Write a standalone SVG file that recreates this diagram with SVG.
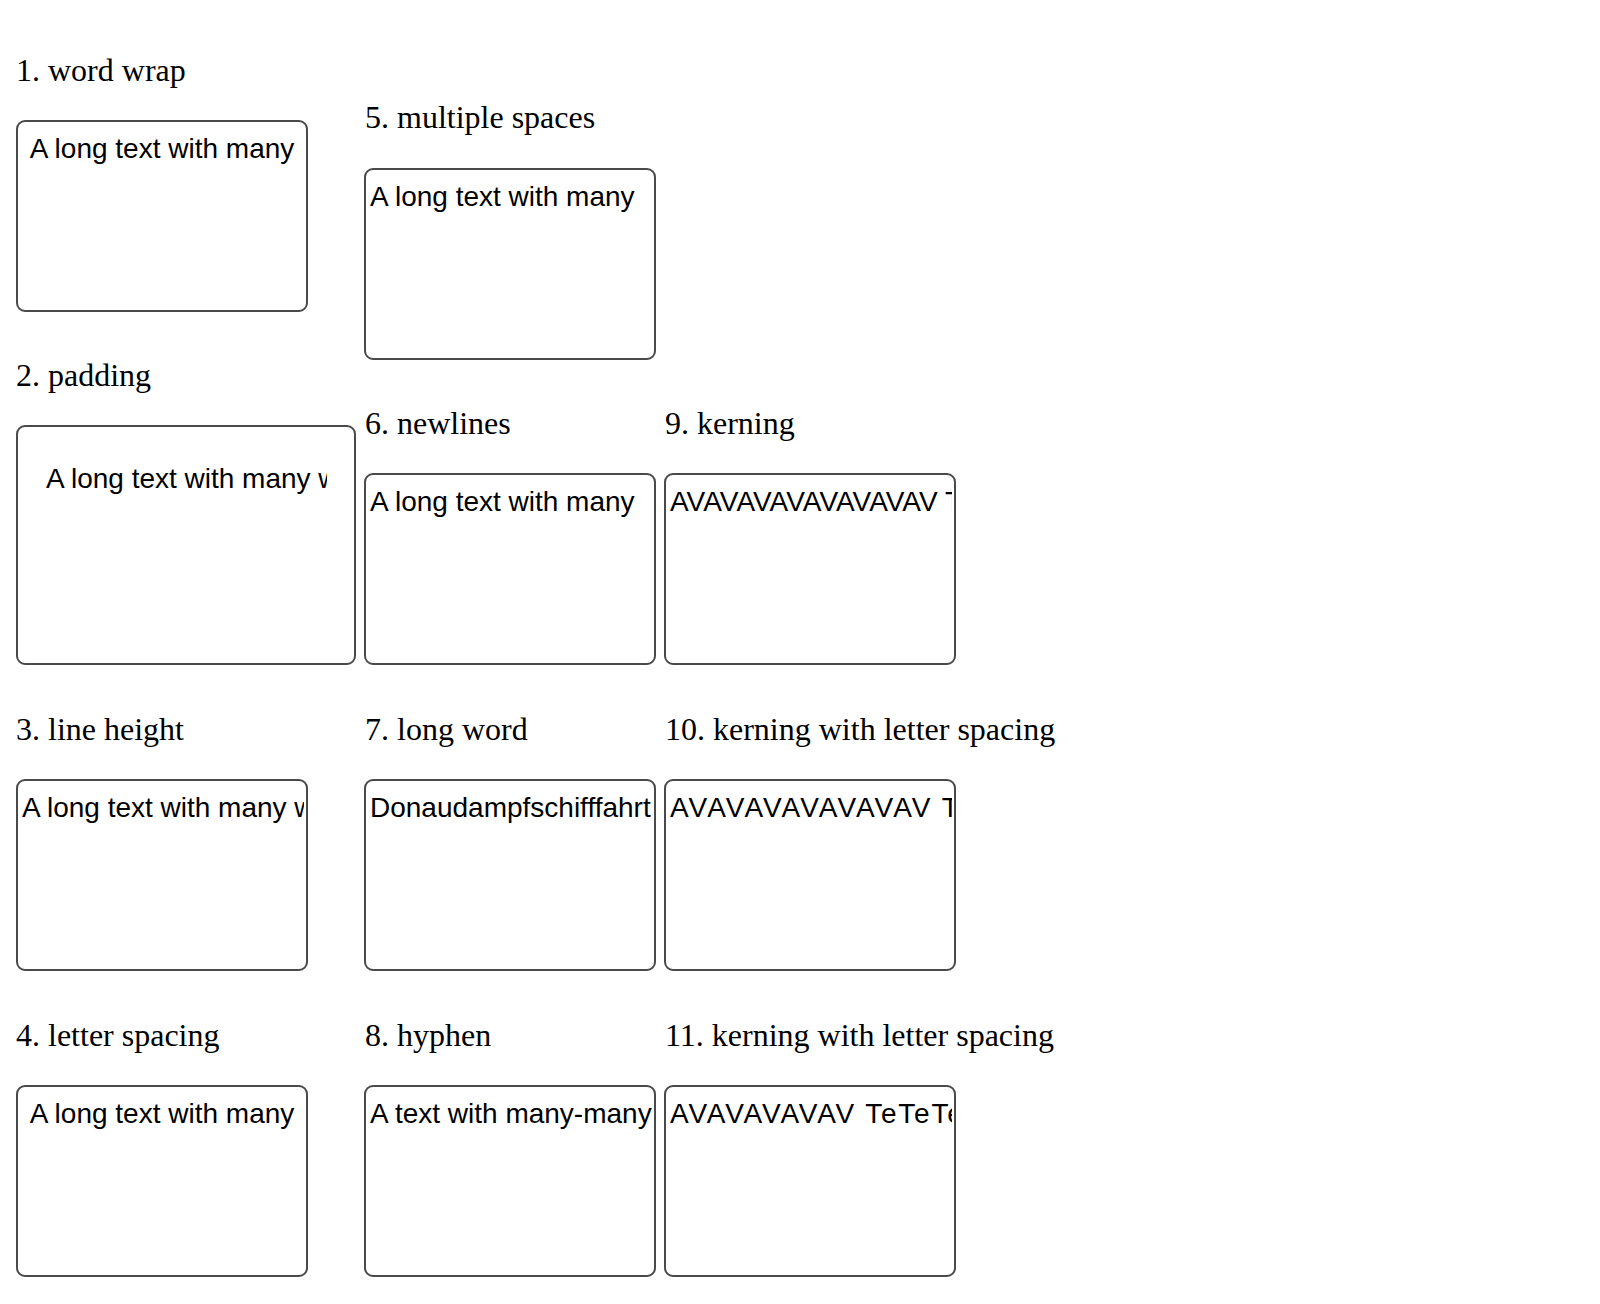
<svg xmlns="http://www.w3.org/2000/svg" width="1600" height="1304" viewBox="0 0 1600 1304">
<style>
.title{font-family:"Liberation Serif","Times New Roman",serif;font-size:32px;fill:#000}
.box{fill:#fff;stroke:#4a4a4a;stroke-width:2}
.t{font-family:"Liberation Sans",Arial,sans-serif;font-size:28px;fill:#000}
.mid{text-anchor:middle}
.ls{letter-spacing:2px}
</style>
<defs>
<clipPath id="c1"><rect x="18" y="122" width="288" height="188"/></clipPath>
<clipPath id="c2"><rect x="46" y="450" width="281" height="190"/></clipPath>
<clipPath id="c3"><rect x="18" y="781" width="286" height="188"/></clipPath>
<clipPath id="c4"><rect x="18" y="1087" width="288" height="188"/></clipPath>
<clipPath id="c5"><rect x="366" y="169" width="287" height="188"/></clipPath>
<clipPath id="c6"><rect x="366" y="475" width="287" height="188"/></clipPath>
<clipPath id="c7"><rect x="366" y="781" width="287" height="188"/></clipPath>
<clipPath id="c8"><rect x="366" y="1087" width="287" height="188"/></clipPath>
<clipPath id="c9"><rect x="666" y="475" width="286" height="188"/></clipPath>
<clipPath id="c10"><rect x="666" y="781" width="286" height="188"/></clipPath>
<clipPath id="c11"><rect x="666" y="1087" width="286" height="188"/></clipPath>
</defs>
<g id="connectors"/>
<g id="node1">
<text class="title" x="16" y="81">1. word wrap</text>
<rect class="box" x="17" y="121" width="290" height="190" rx="8"/>
<text class="t mid" x="162" y="158" clip-path="url(#c1)">A long text with many</text>
</g>
<g id="node2">
<text class="title" x="16" y="386">2. padding</text>
<rect class="box" x="17" y="426" width="338" height="238" rx="8"/>
<text class="t" x="46" y="488" clip-path="url(#c2)">A long text with many w</text>
</g>
<g id="node3">
<text class="title" x="16" y="740">3. line height</text>
<rect class="box" x="17" y="780" width="290" height="190" rx="8"/>
<text class="t" x="22" y="817" clip-path="url(#c3)">A long text with many w</text>
</g>
<g id="node4">
<text class="title" x="16" y="1046">4. letter spacing</text>
<rect class="box" x="17" y="1086" width="290" height="190" rx="8"/>
<text class="t mid" x="162" y="1123" clip-path="url(#c4)">A long text with many</text>
</g>
<g id="node5">
<text class="title" x="365" y="128">5. multiple spaces</text>
<rect class="box" x="365" y="169" width="290" height="190" rx="8"/>
<text class="t" x="370" y="206" clip-path="url(#c5)">A long text with many</text>
</g>
<g id="node6">
<text class="title" x="365" y="434">6. newlines</text>
<rect class="box" x="365" y="474" width="290" height="190" rx="8"/>
<text class="t" x="370" y="511" clip-path="url(#c6)">A long text with many</text>
</g>
<g id="node7">
<text class="title" x="365" y="740">7. long word</text>
<rect class="box" x="365" y="780" width="290" height="190" rx="8"/>
<text class="t" x="370" y="817" clip-path="url(#c7)">Donaudampfschifffahrt</text>
</g>
<g id="node8">
<text class="title" x="365" y="1046">8. hyphen</text>
<rect class="box" x="365" y="1086" width="290" height="190" rx="8"/>
<text class="t" x="370" y="1123" clip-path="url(#c8)">A text with many-many</text>
</g>
<g id="node9">
<text class="title" x="665" y="434">9. kerning</text>
<rect class="box" x="665" y="474" width="290" height="190" rx="8"/>
<text class="t" x="670" y="511" clip-path="url(#c9)">AVAVAVAVAVAVAVAV T</text>
</g>
<g id="node10">
<text class="title" x="665" y="740">10. kerning with letter spacing</text>
<rect class="box" x="665" y="780" width="290" height="190" rx="8"/>
<text class="t ls" x="670" y="817" clip-path="url(#c10)">AVAVAVAVAVAVAV T</text>
</g>
<g id="node11">
<text class="title" x="665" y="1046">11. kerning with letter spacing</text>
<rect class="box" x="665" y="1086" width="290" height="190" rx="8"/>
<text class="t" x="670" y="1123" style="letter-spacing:1.8px" clip-path="url(#c11)">AVAVAVAVAV TeTeTe</text>
</g>
</svg>
